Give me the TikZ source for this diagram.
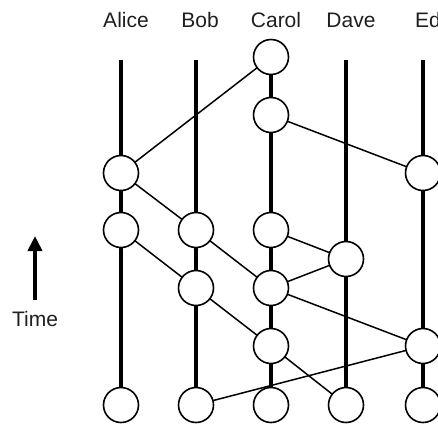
\documentclass[tikz,border=0pt]{standalone}
\usepackage{fontspec}
\setmainfont{Liberation Sans}
\usetikzlibrary{arrows.meta}
\begin{document}
\begin{tikzpicture}[x=1pt,y=-1pt,
  ev/.style={circle,draw=black,fill=white,line width=1.6pt,minimum size=35pt,inner sep=0pt},
  life/.style={line width=4.6pt},
  msg/.style={line width=1.5pt},
  lbl/.style={font=\fontsize{21}{24}\selectfont,text=black!88,anchor=base,inner sep=0pt}]
\useasboundingbox (0,0) rectangle (438,424);
\begin{scope}
\clip (0,0) rectangle (438,424);
% labels
\node[lbl] (la) at (126,27) {Alice};
\node[lbl] (lb) at (200,27) {Bob};
\node[lbl] (lc) at (276,27) {Carol};
\node[lbl] (ld) at (351,27) {Dave};
\node[lbl,anchor=base west] (le) at (415,27) {Ed};
% lifeline tops
\coordinate (at) at (121,60);
\coordinate (bt) at (196,60);
\coordinate (dt) at (346,60);
\coordinate (et) at (423,60);
% event nodes positions
\coordinate (pa1) at (121,173);
\coordinate (pa2) at (121,230);
\coordinate (pa3) at (121,405);
\coordinate (pb1) at (196,230);
\coordinate (pb2) at (196,288);
\coordinate (pb3) at (196,405);
\coordinate (pc1) at (271,57);
\coordinate (pc2) at (271,115);
\coordinate (pc3) at (271,230);
\coordinate (pc4) at (271,288);
\coordinate (pc5) at (271,346);
\coordinate (pc6) at (271,405);
\coordinate (pd1) at (346,259);
\coordinate (pd2) at (346,405);
\coordinate (pe1) at (423,173);
\coordinate (pe2) at (423,346);
\coordinate (pe3) at (423,405);
% lifelines
\draw[life] (at) -- (pa3);
\draw[life] (bt) -- (pb3);
\draw[life] (pc1) -- (pc6);
\draw[life] (dt) -- (pd2);
\draw[life] (et) -- (pe3);
% messages
\draw[msg] (pa1) -- (pc1);
\draw[msg] (pc2) -- (pe1);
\draw[msg] (pa1) -- (pb1);
\draw[msg] (pa2) -- (pb2);
\draw[msg] (pb1) -- (pc4);
\draw[msg] (pc3) -- (pd1);
\draw[msg] (pd1) -- (pc4);
\draw[msg] (pc4) -- (pe2);
\draw[msg] (pb2) -- (pc5);
\draw[msg] (pc5) -- (pd2);
\draw[msg] (pe2) -- (pb3);
% events
\foreach \n in {a1,a2,a3,b1,b2,b3,c1,c2,c3,c4,c5,c6,d1,d2,e1,e2,e3}
  \node[ev] (\n) at (p\n) {};
% time arrow
\coordinate (tb) at (35,300);
\coordinate (tt) at (35,236);
\draw[line width=4.5pt,-{Triangle[length=15pt,width=14pt]}] (tb) -- (tt);
\node[lbl,anchor=center] (time) at (35,319) {Time};
\end{scope}
\end{tikzpicture}
\end{document}
